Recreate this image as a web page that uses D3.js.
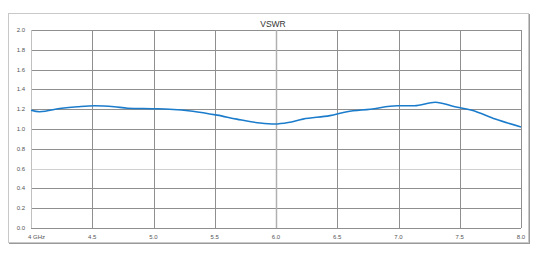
<!DOCTYPE html>
<html>
<head>
<meta charset="utf-8">
<script src="https://cdn.jsdelivr.net/npm/d3@7"></script>
<style>
  body { margin: 0; background: #fff; }
  text { font-family: "Liberation Sans", Arial, sans-serif; }
</style>
</head>
<body>
<script>
// data
var freqs = [4.00, 4.07, 4.25, 4.38, 4.52, 4.68, 4.79, 5.01, 5.13, 5.32, 5.52, 5.68, 5.87, 5.99, 6.10, 6.22, 6.44, 6.58, 6.77, 6.99, 7.13, 7.30, 7.46, 7.60, 7.79, 8.00];
var vswr  = [1.19, 1.175, 1.21, 1.225, 1.235, 1.225, 1.21, 1.205, 1.20, 1.18, 1.14, 1.10, 1.06, 1.05, 1.065, 1.10, 1.135, 1.175, 1.20, 1.235, 1.235, 1.27, 1.225, 1.19, 1.10, 1.02];
var xTicks = [4, 4.5, 5, 5.5, 6, 6.5, 7, 7.5, 8];
var xTickLabels = ["4 GHz", "4.5", "5.0", "5.5", "6.0", "6.5", "7.0", "7.5", "8.0"];
var yTicks = [0, 0.2, 0.4, 0.6, 0.8, 1.0, 1.2, 1.4, 1.6, 1.8, 2.0];

var W = 543, H = 254;
var svg = d3.select("body").append("svg")
    .attr("width", W)
    .attr("height", H);

// chart frame
svg.append("rect")
    .attr("x", 9.5).attr("y", 14.5)
    .attr("width", 520).attr("height", 229)
    .attr("fill", "none")
    .attr("stroke", "#9a9a9a");
svg.append("rect")
    .attr("x", 8.5).attr("y", 13.5)
    .attr("width", 520).attr("height", 229)
    .attr("fill", "#fff")
    .attr("stroke", "#c8c8c8");

var x = d3.scaleLinear().domain([4, 8]).range([31, 521]);
var y = d3.scaleLinear().domain([0, 2]).range([228, 30]);

// grid
svg.append("g").selectAll("line")
    .data(yTicks)
  .enter().append("line")
    .attr("x1", x(4)).attr("x2", x(8))
    .attr("y1", function(d) { return Math.round(y(d)) + 0.5; })
    .attr("y2", function(d) { return Math.round(y(d)) + 0.5; })
    .attr("stroke", function(d, i) { return i == 3 ? "#d0d0d0" : "#8f8f8f"; })
    .attr("stroke-width", 1);

svg.append("g").selectAll("line")
    .data(xTicks)
  .enter().append("line")
    .attr("x1", function(d) { return Math.round(x(d)) + 0.5; })
    .attr("x2", function(d) { return Math.round(x(d)) + 0.5; })
    .attr("y1", y(0)).attr("y2", y(2))
    .attr("stroke", function(d, i) { return i == 4 ? "#b0b0b0" : (i == 0 ? "#c0c0c0" : "#8f8f8f"); })
    .attr("stroke-width", function(d, i) { return i == 4 ? 1.5 : 1; });

// y labels
svg.append("g").selectAll("text")
    .data(yTicks)
  .enter().append("text")
    .attr("x", 25)
    .attr("y", function(d) { return y(d) + 2; })
    .attr("text-anchor", "end")
    .attr("font-size", 6)
    .attr("fill", "#555")
    .text(function(d) { return d.toFixed(1); });

// x labels
svg.append("g").selectAll("text")
    .data(xTicks)
  .enter().append("text")
    .attr("x", function(d, i) { return i == 0 ? x(d) - 3 : x(d); })
    .attr("y", 238.5)
    .attr("text-anchor", function(d, i) { return i == 0 ? "start" : "middle"; })
    .attr("font-size", 6)
    .attr("fill", "#555")
    .text(function(d, i) { return xTickLabels[i]; });

// title
svg.append("text")
    .attr("x", 273)
    .attr("y", 27)
    .attr("text-anchor", "middle")
    .attr("font-size", 8.5)
    .attr("fill", "#333")
    .text("VSWR");

// curve
var line = d3.line()
    .x(function(d, i) { return x(freqs[i]); })
    .y(function(d) { return y(d); })
    .curve(d3.curveMonotoneX);

svg.append("path")
    .datum(vswr)
    .attr("d", line)
    .attr("fill", "none")
    .attr("stroke", "#1c7ccc")
    .attr("stroke-width", 1.6);
</script>
</body>
</html>
